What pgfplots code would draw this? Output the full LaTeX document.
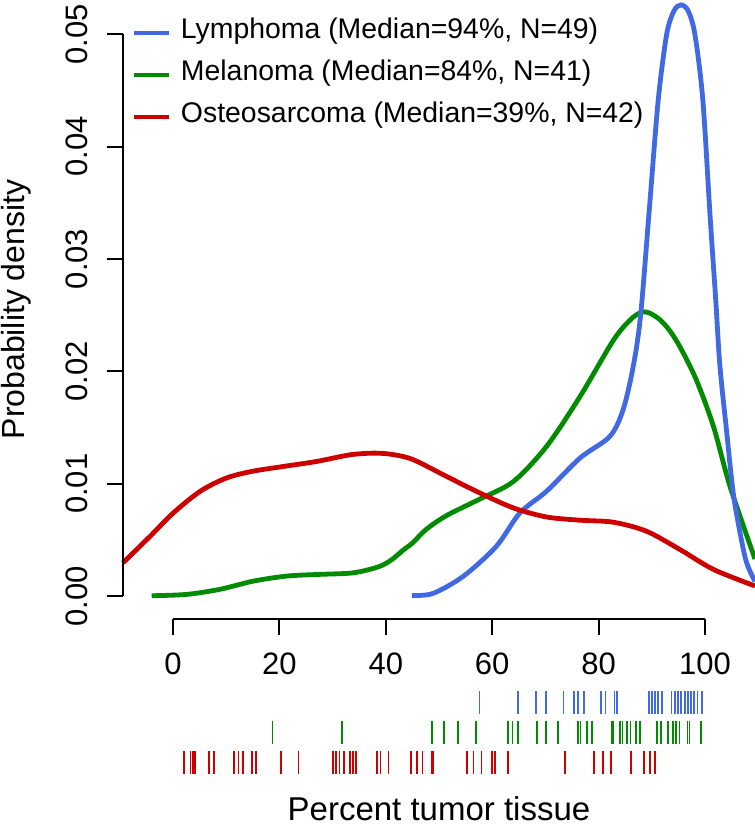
\documentclass[border=0pt]{standalone}
\usepackage{fontspec}
\setmainfont{Liberation Sans}
\usepackage{pgfplots}
\pgfplotsset{compat=1.18}
\definecolor{lblue}{HTML}{4169E1}
\definecolor{lgreen}{HTML}{008B00}
\definecolor{lred}{HTML}{CD0000}
\begin{document}
\begin{tikzpicture}
\useasboundingbox (0,0) rectangle (377.5pt,412.5pt);
\begin{axis}[
  at={(61.5pt,103pt)}, anchor=south west,
  scale only axis, width=316pt, height=309.5pt,
  xmin=-9.4, xmax=109.4, ymin=-0.00204, ymax=0.05304,
  axis x line*=bottom, axis y line*=left,
  axis line style={draw=none},
  tick align=outside, major tick length=8pt,
  tick style={draw=black, line width=1pt},
  xtick={0,20,40,60,80,100}, xticklabels={0,20,40,60,80,100},
  ytick={0,0.01,0.02,0.03,0.04,0.05},
  yticklabels={0.00,0.01,0.02,0.03,0.04,0.05},
  scaled y ticks=false,
  xticklabel style={anchor=base, yshift=-19.5pt, font=\fontsize{15.5}{18}\selectfont},
  yticklabel style={xshift=-9.5pt, rotate=90, anchor=base, font=\fontsize{15.5}{18}\selectfont},
  xlabel={Percent tumor tissue},
  ylabel={Probability density},
  xlabel style={at={(axis description cs:0.5,-0.3260)}, anchor=base, font=\fontsize{16.5}{19}\selectfont},
  ylabel style={at={(axis description cs:-0.1551,0.5)}, rotate=0, anchor=base, font=\fontsize{16}{19}\selectfont},
  clip=false,
  legend cell align=left,
  legend image code/.code={\path (0pt,0pt); \draw[#1, line width=2pt] (0pt,2.8pt) -- (17.5pt,2.8pt);},
  legend style={draw=none, fill=none, inner sep=0pt, outer sep=0pt,
    at={(axis description cs:0.01377,0.98659)}, anchor=north west,
    row sep=0pt, column sep=5.15pt,
    nodes={inner sep=0pt, text height=15pt, text depth=6pt},
    cells={anchor=base west},
    font=\fontsize{14.2}{17}\selectfont},
]
\addlegendimage{lblue}
\addlegendentry{Lymphoma (Median=94\%, N=49)}
\addlegendimage{lgreen}
\addlegendentry{Melanoma (Median=84\%, N=41)}
\addlegendimage{lred}
\addlegendentry{Osteosarcoma (Median=39\%, N=42)}

% Melanoma density
\addplot[lgreen, line width=2.4pt, smooth, tension=0.5, forget plot] coordinates {
(-4.0,0.00003) (2.6,0.00015) (8.8,0.0006) (15.1,0.00133) (21.4,0.00178)
(27.6,0.00193) (33.9,0.00207) (38.6,0.0026) (41.0,0.0032) (43.3,0.0041)
(45.2,0.0048) (47.5,0.0059) (51.4,0.00716) (57.7,0.00864) (64.0,0.0102)
(70.2,0.01331) (76.5,0.01775) (82.8,0.02278) (86.0,0.0246) (88.0,0.02525)
(89.5,0.0252) (91.5,0.0246) (93.4,0.0236) (95.5,0.0220) (98.4,0.0192)
(101.6,0.01508) (104.7,0.00976) (109.4,0.0033)
};
% Lymphoma density
\addplot[lblue, line width=2.4pt, smooth, tension=0.5, forget plot] coordinates {
(44.9,0.00005) (48.9,0.00024) (54.6,0.00177) (60.8,0.00444) (65.2,0.0074)
(70.2,0.00932) (76.5,0.01228) (82.1,0.0142) (84.6,0.01657) (86.5,0.02041)
(87.9,0.0250) (89.6,0.0348) (91.2,0.0441) (92.8,0.0500) (94.2,0.0521)
(95.5,0.0526) (96.8,0.0521) (98.1,0.0500) (99.6,0.0441) (101.0,0.0335)
(102.0,0.0265) (102.8,0.0205) (104.1,0.0145) (105.3,0.0092) (106.6,0.0056)
(107.8,0.0030) (109.4,0.0013)
};
% Osteosarcoma density
\addplot[lred, line width=2.4pt, smooth, tension=0.5, forget plot] coordinates {
(-9.4,0.00296) (-4.3,0.00532) (0.06,0.0074) (5.1,0.00932) (10.0,0.0105)
(14.9,0.0111) (20.7,0.01153) (27.0,0.01198) (33.3,0.01257) (38.0,0.01272)
(41.5,0.01258) (45.2,0.01213) (51.4,0.01065) (57.7,0.00917) (64.0,0.00784)
(70.2,0.00704) (76.5,0.00675) (82.8,0.00657) (89.0,0.00577) (95.3,0.00414)
(101.6,0.00237) (109.4,0.0009)
};

% rugs
\addplot[lblue, only marks, mark=|, mark size=5.75pt, mark options={line width=0.9pt}, forget plot] coordinates {
(57.6,-0.009477) (64.8,-0.009477) (68.2,-0.009477) (70.1,-0.009477) (73.4,-0.009477)
(75.4,-0.009477) (76.2,-0.009477) (77.3,-0.009477) (80.5,-0.009477) (81.3,-0.009477)
(83.0,-0.009477) (83.4,-0.009477) (89.5,-0.009477) (90.0,-0.009477) (90.6,-0.009477)
(91.2,-0.009477) (91.9,-0.009477) (93.7,-0.009477) (94.3,-0.009477) (94.9,-0.009477)
(95.5,-0.009477) (96.2,-0.009477) (96.8,-0.009477) (97.4,-0.009477) (98.0,-0.009477)
(98.6,-0.009477) (99.4,-0.009477)
};
\addplot[lgreen, only marks, mark=|, mark size=5.75pt, mark options={line width=0.9pt}, forget plot] coordinates {
(18.7,-0.012139) (31.7,-0.012139) (48.7,-0.012139) (50.9,-0.012139) (53.6,-0.012139)
(57.0,-0.012139) (62.9,-0.012139) (63.8,-0.012139) (64.9,-0.012139) (68.4,-0.012139)
(70.1,-0.012139) (72.4,-0.012139) (76.2,-0.012139) (76.6,-0.012139) (77.8,-0.012139)
(78.7,-0.012139) (82.5,-0.012139) (82.8,-0.012139) (84.0,-0.012139) (84.5,-0.012139)
(85.3,-0.012139) (86.0,-0.012139) (87.0,-0.012139) (87.8,-0.012139) (91.0,-0.012139)
(91.7,-0.012139) (93.1,-0.012139) (94.0,-0.012139) (94.5,-0.012139) (95.2,-0.012139)
(96.7,-0.012139) (97.1,-0.012139) (99.2,-0.012139)
};
\addplot[lred, only marks, mark=|, mark size=5.75pt, mark options={line width=0.9pt}, forget plot] coordinates {
(2.1,-0.0148) (3.3,-0.0148) (3.7,-0.0148) (4.1,-0.0148) (6.8,-0.0148)
(7.7,-0.0148) (11.5,-0.0148) (12.3,-0.0148) (13.1,-0.0148) (14.8,-0.0148)
(15.6,-0.0148) (20.3,-0.0148) (23.6,-0.0148) (30.0,-0.0148) (30.6,-0.0148)
(31.3,-0.0148) (32.1,-0.0148) (33.3,-0.0148) (33.8,-0.0148) (34.4,-0.0148)
(38.4,-0.0148) (39.0,-0.0148) (40.5,-0.0148) (44.7,-0.0148) (45.8,-0.0148)
(46.9,-0.0148) (48.6,-0.0148) (48.9,-0.0148) (55.3,-0.0148) (56.5,-0.0148)
(58.0,-0.0148) (59.9,-0.0148) (60.5,-0.0148) (63.0,-0.0148) (73.7,-0.0148)
(79.1,-0.0148) (80.9,-0.0148) (82.3,-0.0148) (86.1,-0.0148) (88.6,-0.0148)
(89.7,-0.0148) (90.6,-0.0148)
};

% R-style axis lines spanning first to last tick
\draw[line width=1pt] (axis cs:0,-0.00204) -- (axis cs:100,-0.00204);
\draw[line width=1pt] (axis cs:-9.4,0) -- (axis cs:-9.4,0.05);
\end{axis}
\end{tikzpicture}
\end{document}
